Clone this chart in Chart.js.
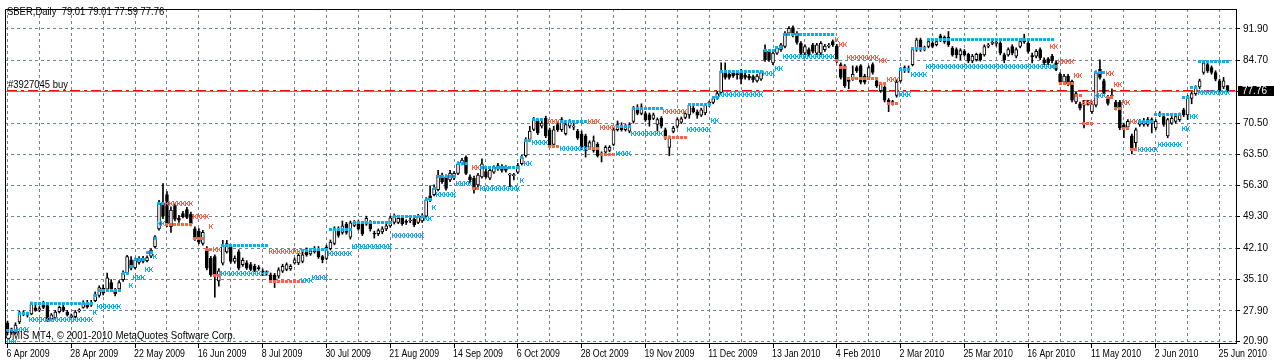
<!DOCTYPE html>
<html>
<head>
<meta charset="utf-8">
<script src="https://cdn.jsdelivr.net/npm/chart.js@4.4.1/dist/chart.umd.min.js"></script>
<style>
  html, body { margin: 0; padding: 0; background: #fff; }
</style>
</head>
<body>
<canvas id="chart" width="1274" height="361"></canvas>
<script>
  // SBER daily, 6 Apr 2009 .. 29 Jun 2010 (one entry per trading day)
  const dateLabels = ["6 Apr 2009", "28 Apr 2009", "22 May 2009", "16 Jun 2009", "8 Jul 2009",
    "30 Jul 2009", "21 Aug 2009", "14 Sep 2009", "6 Oct 2009", "28 Oct 2009", "19 Nov 2009",
    "11 Dec 2009", "13 Jan 2010", "4 Feb 2010", "2 Mar 2010", "25 Mar 2010", "16 Apr 2010",
    "11 May 2010", "2 Jun 2010", "25 Jun 2010"];
  const barsPerLabel = 16;
  const priceTicks = [20.90, 27.90, 35.10, 42.10, 49.30, 56.30, 63.50, 70.50, 77.60, 84.70, 91.90];

  const opens = [
    25.2, 23.0, 22.9, 25.4, 27.2, 27.0, 27.2, 28.6, 28.1, 29.8,
    29.1, 26.0, 26.3, 27.7, 28.7, 27.6, 26.6, 26.6, 27.9, 28.7,
    29.8, 29.2, 30.2, 31.4, 33.0, 32.8, 34.3, 32.5, 32.9, 35.0,
    36.5, 39.5, 37.7, 38.9, 39.8, 39.3, 40.3, 42.5, 46.5, 52.4,
    54.3, 47.0, 51.7, 48.9, 50.0, 50.9, 49.8, 46.5, 46.0, 43.2,
    42.0, 39.8, 40.2, 34.7, 38.7, 41.3, 42.5, 39.1, 41.3, 38.4,
    38.8, 38.4, 38.0, 37.6, 36.9, 36.4, 36.1, 36.0, 35.8, 36.9,
    37.3, 37.4, 38.8, 38.8, 39.1, 41.7, 40.8, 41.3, 42.0, 40.2,
    39.8, 42.0, 43.2, 46.5, 45.7, 47.6, 44.6, 47.3, 48.0, 47.6,
    47.6, 48.0, 45.5, 45.4, 45.8, 46.5, 47.2, 48.0, 48.0, 48.9,
    48.1, 48.3, 48.7, 48.0, 48.3, 49.4, 54.0, 54.3, 55.4, 58.7,
    58.3, 57.6, 58.0, 59.1, 61.4, 62.8, 58.3, 58.0, 56.5, 58.3,
    59.5, 58.0, 59.4, 60.9, 60.7, 60.5, 58.7, 58.6, 59.4, 61.3,
    63.1, 66.8, 69.1, 70.9, 69.8, 71.6, 69.0, 65.7, 70.2, 69.0,
    68.1, 69.8, 69.6, 68.7, 68.0, 67.6, 65.0, 64.3, 65.7, 63.5,
    63.9, 64.3, 65.7, 69.0, 69.8, 69.0, 68.7, 70.9, 73.9, 72.7,
    72.7, 72.4, 71.6, 70.2, 71.6, 69.0, 65.0, 68.6, 69.8, 70.7,
    71.8, 72.4, 73.9, 73.1, 72.3, 72.8, 75.0, 75.2, 76.2, 77.5,
    82.0, 81.6, 82.0, 81.6, 82.0, 81.4, 81.2, 81.1, 80.1, 80.5,
    87.2, 86.8, 84.2, 86.4, 87.2, 87.9, 90.9, 92.2, 90.9, 88.6,
    86.4, 87.2, 88.3, 86.4, 86.4, 87.2, 88.0, 89.0, 88.0, 83.8,
    83.5, 80.1, 80.5, 83.1, 83.5, 81.2, 80.9, 83.8, 80.1, 77.9,
    78.7, 75.7, 75.3, 76.8, 80.1, 82.4, 82.7, 83.8, 87.2, 89.4,
    87.6, 87.9, 88.6, 88.3, 90.3, 89.0, 90.0, 87.5, 87.2, 86.0,
    86.8, 86.1, 84.6, 84.9, 86.1, 86.0, 88.0, 88.6, 88.6, 88.6,
    86.0, 86.0, 87.9, 85.7, 87.9, 89.8, 88.6, 85.7, 85.7, 87.2,
    84.9, 85.1, 85.7, 84.2, 81.6, 79.8, 81.2, 80.0, 75.3, 74.9,
    74.6, 75.0, 73.1, 74.6, 82.7, 80.1, 76.4, 76.6, 75.3, 75.3,
    70.1, 69.6, 67.6, 66.1, 70.2, 70.2, 70.2, 71.3, 69.4, 72.4,
    72.0, 67.6, 70.5, 70.9, 71.3, 73.5, 72.4, 76.1, 77.2, 78.7,
    82.0, 83.8, 83.1, 82.0, 80.1, 78.7, 79.01];
  const highs = [
    25.6, 24.0, 25.2, 27.8, 27.9, 27.6, 29.9, 29.2, 28.9, 30.1,
    29.4, 27.3, 28.0, 29.0, 29.2, 28.0, 27.2, 28.0, 28.4, 30.2,
    30.3, 30.3, 32.2, 33.6, 33.8, 36.5, 35.0, 33.0, 34.8, 37.0,
    40.5, 40.2, 39.9, 40.2, 40.3, 40.4, 42.0, 45.0, 53.0, 56.8,
    55.0, 51.5, 52.2, 49.6, 50.5, 51.4, 50.3, 47.0, 46.6, 46.2,
    42.5, 40.3, 40.6, 37.5, 43.9, 43.9, 43.0, 40.4, 41.8, 39.9,
    39.3, 38.9, 38.5, 38.2, 37.4, 37.0, 36.5, 36.4, 37.7, 38.5,
    38.8, 38.4, 39.9, 40.9, 41.3, 42.2, 41.9, 42.5, 42.5, 40.5,
    42.8, 44.0, 47.0, 47.0, 48.3, 48.0, 48.3, 48.4, 48.4, 48.0,
    49.4, 48.4, 46.0, 46.5, 47.0, 47.6, 49.4, 49.9, 49.3, 49.3,
    48.6, 48.9, 49.1, 49.8, 49.9, 53.6, 56.3, 56.5, 59.8, 59.2,
    58.8, 59.8, 59.5, 61.7, 62.5, 63.1, 58.8, 58.5, 59.1, 62.4,
    60.0, 60.3, 60.9, 61.4, 61.1, 60.9, 59.1, 59.1, 61.4, 63.2,
    67.2, 69.8, 71.8, 71.4, 71.0, 72.1, 69.4, 69.8, 70.6, 71.8,
    70.6, 71.3, 70.5, 69.1, 68.7, 68.0, 66.5, 67.6, 66.1, 64.0,
    65.4, 65.4, 69.4, 71.0, 70.6, 70.2, 70.6, 74.3, 74.7, 74.9,
    73.1, 72.8, 72.8, 71.7, 72.0, 69.4, 67.6, 69.8, 71.7, 71.9,
    73.1, 75.0, 74.3, 73.5, 73.9, 75.0, 75.5, 76.5, 77.7, 84.2,
    84.2, 82.0, 82.4, 82.4, 82.7, 81.8, 81.6, 81.4, 81.6, 82.4,
    88.3, 87.2, 86.8, 87.9, 88.6, 91.3, 92.4, 92.6, 91.3, 89.0,
    88.3, 87.6, 88.6, 88.6, 89.0, 88.4, 88.6, 89.4, 88.4, 84.2,
    83.8, 80.6, 83.5, 83.5, 83.8, 81.6, 83.5, 84.2, 80.5, 79.8,
    79.0, 76.1, 75.7, 80.2, 83.1, 83.5, 83.5, 87.6, 89.8, 89.8,
    88.0, 89.4, 89.0, 89.4, 90.7, 90.3, 91.3, 87.9, 87.6, 87.4,
    87.2, 86.4, 86.1, 86.4, 86.4, 88.3, 88.6, 89.4, 89.4, 89.0,
    86.4, 87.6, 88.3, 87.6, 89.4, 90.7, 89.0, 86.4, 87.2, 87.6,
    85.3, 85.4, 86.1, 84.6, 82.0, 81.6, 81.6, 80.3, 77.6, 75.3,
    75.7, 75.7, 75.3, 82.4, 84.9, 80.5, 76.8, 78.3, 75.7, 75.7,
    70.5, 71.3, 68.0, 69.4, 71.3, 71.6, 71.8, 71.7, 71.3, 73.1,
    72.4, 71.6, 72.0, 72.4, 72.8, 73.9, 76.8, 77.6, 79.0, 80.5,
    84.6, 84.2, 83.5, 82.4, 80.5, 80.9, 79.01];
  const lows = [
    22.5, 22.6, 22.6, 25.0, 26.8, 26.5, 27.0, 27.8, 27.7, 28.4,
    25.5, 25.6, 26.0, 27.4, 27.7, 26.7, 26.2, 26.3, 27.6, 28.5,
    28.5, 28.9, 30.0, 31.0, 31.5, 32.4, 32.4, 31.3, 32.5, 34.6,
    36.2, 37.2, 37.4, 38.5, 38.8, 39.0, 40.0, 42.2, 46.2, 48.8,
    47.0, 45.7, 48.3, 48.0, 49.0, 48.8, 47.2, 43.9, 43.1, 42.8,
    37.2, 35.7, 31.0, 33.5, 38.3, 41.0, 38.7, 38.7, 37.2, 38.0,
    37.3, 37.0, 36.8, 37.1, 35.9, 36.0, 34.4, 33.2, 35.3, 36.6,
    37.0, 37.1, 38.5, 38.4, 38.8, 40.3, 40.5, 41.0, 39.8, 38.8,
    39.5, 41.7, 42.9, 44.6, 45.3, 45.3, 44.2, 47.0, 46.2, 45.0,
    47.3, 46.0, 44.4, 45.0, 45.4, 46.1, 46.9, 47.6, 47.7, 47.3,
    47.5, 47.9, 47.0, 47.7, 48.0, 49.1, 52.7, 54.0, 55.1, 56.8,
    55.3, 57.2, 57.7, 58.8, 61.0, 58.8, 57.0, 54.6, 56.1, 58.0,
    58.0, 57.7, 59.1, 59.8, 59.4, 59.4, 56.1, 57.6, 59.1, 61.0,
    62.8, 66.5, 68.8, 67.9, 69.4, 67.2, 65.0, 65.3, 68.6, 68.6,
    67.8, 69.4, 69.0, 66.8, 64.6, 62.8, 64.6, 63.9, 62.8, 61.7,
    63.5, 64.0, 65.4, 68.7, 68.7, 68.7, 68.3, 70.5, 72.4, 72.4,
    70.9, 69.8, 71.3, 68.7, 69.4, 66.8, 63.1, 68.3, 69.4, 70.4,
    71.5, 71.6, 72.8, 71.6, 72.0, 72.4, 74.3, 74.9, 75.9, 77.2,
    80.5, 80.5, 80.9, 80.5, 79.4, 80.5, 80.3, 79.8, 79.8, 80.2,
    84.5, 84.5, 83.8, 86.1, 86.8, 87.6, 90.5, 90.1, 88.4, 86.0,
    86.0, 85.7, 86.4, 86.0, 86.0, 86.8, 87.6, 87.9, 84.2, 80.5,
    78.6, 78.3, 80.2, 82.0, 79.4, 79.4, 80.5, 81.6, 78.6, 77.5,
    75.3, 73.1, 74.6, 76.4, 79.8, 82.0, 82.0, 83.5, 86.8, 86.8,
    86.9, 87.6, 87.6, 88.0, 89.0, 88.6, 87.9, 85.7, 85.3, 84.9,
    85.7, 84.2, 84.2, 84.6, 84.6, 85.7, 87.6, 88.3, 88.0, 86.0,
    84.2, 85.7, 86.0, 85.3, 87.6, 88.6, 86.4, 84.2, 85.3, 84.9,
    83.8, 83.8, 84.2, 82.4, 79.4, 79.4, 79.0, 75.3, 74.9, 73.5,
    69.4, 74.6, 72.7, 74.2, 80.5, 77.2, 74.6, 76.2, 73.5, 69.0,
    67.2, 69.2, 63.5, 65.0, 69.8, 69.8, 69.8, 68.3, 69.0, 72.0,
    69.8, 67.2, 70.2, 70.5, 70.9, 72.0, 71.3, 74.9, 76.8, 78.3,
    81.6, 82.0, 81.6, 80.1, 77.5, 78.3, 77.59];
  const closes = [
    23.0, 23.8, 24.7, 27.3, 27.4, 26.9, 29.4, 28.0, 28.4, 28.7,
    25.8, 27.0, 27.6, 28.7, 28.0, 27.0, 26.8, 27.6, 28.0, 29.8,
    28.8, 29.7, 31.7, 33.2, 31.9, 35.4, 32.9, 31.8, 34.3, 36.5,
    40.2, 37.6, 39.4, 39.8, 39.1, 40.0, 41.7, 44.7, 52.4, 49.4,
    47.6, 50.8, 48.7, 48.5, 49.3, 49.1, 47.7, 44.3, 43.5, 45.7,
    37.6, 36.1, 35.8, 37.0, 42.8, 43.2, 39.1, 39.8, 37.6, 39.4,
    37.6, 37.3, 37.1, 37.5, 36.2, 36.6, 34.8, 34.3, 37.2, 38.0,
    38.4, 38.0, 39.5, 40.5, 40.6, 40.6, 41.5, 42.0, 40.2, 39.5,
    42.3, 43.5, 46.5, 45.0, 47.2, 45.7, 47.9, 48.0, 46.5, 45.4,
    48.9, 46.5, 45.3, 46.1, 46.5, 47.2, 49.0, 49.4, 48.9, 47.7,
    48.0, 48.4, 47.4, 49.4, 49.4, 53.1, 53.1, 55.7, 58.7, 57.2,
    55.7, 59.1, 59.1, 61.3, 62.1, 59.1, 57.6, 55.4, 58.7, 61.3,
    58.3, 59.8, 60.5, 60.1, 59.8, 59.8, 58.8, 58.7, 60.9, 62.8,
    66.8, 68.7, 71.3, 68.3, 70.5, 67.6, 65.3, 69.0, 69.0, 71.3,
    70.2, 70.9, 69.7, 67.2, 65.0, 64.3, 66.1, 66.5, 63.1, 63.4,
    65.0, 65.0, 69.0, 70.2, 69.0, 69.8, 70.2, 73.9, 72.7, 74.2,
    71.3, 71.3, 72.4, 71.3, 69.8, 67.2, 67.2, 69.4, 71.3, 71.5,
    72.7, 74.6, 73.1, 72.3, 73.5, 74.6, 75.1, 76.1, 77.2, 82.3,
    80.9, 80.9, 81.2, 81.5, 80.5, 80.9, 80.7, 80.4, 81.2, 82.0,
    84.9, 84.9, 86.4, 87.5, 88.3, 90.9, 92.0, 90.5, 88.8, 86.4,
    87.9, 86.1, 86.8, 88.3, 88.6, 88.0, 88.1, 88.3, 84.6, 80.9,
    79.0, 80.0, 81.6, 82.4, 79.8, 79.8, 83.1, 82.0, 79.0, 79.4,
    75.7, 75.0, 75.2, 79.8, 82.7, 83.1, 82.8, 87.2, 89.4, 87.2,
    87.5, 89.0, 87.9, 89.0, 89.4, 90.0, 88.3, 86.0, 86.0, 87.0,
    86.0, 84.6, 85.7, 86.1, 84.9, 87.9, 88.1, 88.7, 88.6, 86.4,
    84.9, 87.2, 86.4, 87.2, 89.0, 89.0, 86.8, 85.6, 86.8, 85.3,
    84.2, 84.2, 84.6, 82.7, 79.8, 81.2, 79.4, 75.7, 77.2, 73.9,
    74.7, 75.1, 74.9, 82.0, 80.9, 77.5, 75.0, 76.7, 73.9, 69.4,
    69.4, 70.9, 64.3, 69.0, 70.9, 70.9, 71.3, 70.5, 70.9, 72.7,
    70.2, 71.3, 71.6, 72.0, 72.4, 72.4, 76.4, 77.2, 78.7, 80.1,
    84.2, 82.4, 82.0, 80.5, 77.9, 80.1, 77.76];

  // indicator levels: [first bar, last bar, price]
  const blueUpper = [[0, 2, 23.4], [3, 5, 27.3], [6, 21, 29.5], [22, 22, 31.5], [23, 28, 32.6],
    [29, 30, 36.4], [31, 31, 38.0], [32, 34, 39.5], [35, 36, 41.2], [37, 37, 44.4], [38, 39, 52.2],
    [54, 65, 42.8], [74, 75, 41.5], [76, 80, 41.9], [81, 86, 46.3], [87, 96, 48.0], [97, 104, 49.3],
    [105, 106, 53.2], [107, 107, 55.6], [108, 112, 58.5], [113, 115, 61.4], [119, 128, 60.5],
    [129, 129, 62.6], [130, 131, 66.6], [132, 134, 71.3], [139, 145, 70.8], [153, 156, 69.8],
    [157, 164, 73.9], [171, 176, 74.7], [177, 178, 76.4], [179, 189, 82.3], [190, 192, 86.9],
    [193, 194, 87.7], [195, 207, 90.7], [224, 226, 82.6], [227, 230, 87.4], [231, 262, 89.4],
    [273, 275, 82.1], [284, 287, 70.8], [288, 294, 72.4], [295, 296, 76.3], [297, 298, 78.5],
    [299, 306, 84.4]];
  const blueLower = [[0, 2, 21.0], [3, 5, 23.6], [6, 21, 25.9], [22, 22, 27.6], [23, 28, 28.9],
    [31, 31, 33.7], [32, 34, 35.5], [35, 36, 37.2], [37, 37, 40.3], [38, 39, 47.7],
    [54, 65, 36.3], [74, 76, 34.8], [77, 80, 35.5], [81, 86, 40.9], [87, 96, 42.6], [97, 104, 45.0],
    [105, 106, 48.9], [107, 107, 51.3], [108, 112, 54.3], [113, 116, 56.8], [119, 128, 55.7],
    [129, 129, 57.6], [130, 131, 61.4], [132, 135, 66.2], [139, 145, 64.8], [153, 156, 63.6],
    [157, 164, 68.1], [171, 176, 69.0], [177, 178, 71.1], [179, 189, 76.9], [190, 192, 81.8],
    [193, 194, 82.9], [195, 207, 85.7], [224, 226, 76.9], [227, 230, 81.5], [231, 263, 83.3],
    [273, 275, 76.8], [284, 288, 64.5], [289, 294, 65.6], [295, 296, 69.4], [297, 298, 71.9],
    [299, 306, 77.4]];
  const redUpper = [[40, 46, 52.2], [47, 50, 49.4], [51, 51, 47.0], [52, 53, 41.8], [66, 74, 41.3],
    [117, 118, 60.5], [136, 138, 70.8], [146, 148, 70.9], [149, 152, 69.6], [165, 170, 73.1],
    [208, 208, 89.6], [209, 210, 88.3], [211, 218, 85.5], [219, 220, 84.8], [221, 223, 80.5],
    [262, 263, 87.8], [264, 267, 84.4], [268, 269, 81.4], [270, 272, 75.1], [276, 277, 81.8],
    [278, 279, 79.2], [280, 281, 75.3], [282, 283, 70.8]];
  const redLower = [[40, 46, 47.4], [47, 49, 44.3], [50, 51, 41.8], [52, 53, 36.0], [66, 74, 34.5],
    [117, 118, 55.7], [136, 138, 65.2], [146, 148, 64.8], [149, 152, 63.5], [165, 170, 67.2],
    [208, 208, 84.8], [209, 210, 83.2], [211, 218, 80.7], [219, 220, 79.4], [221, 223, 75.0],
    [262, 263, 83.3], [264, 267, 79.6], [268, 269, 76.8], [270, 272, 70.5], [276, 277, 76.4],
    [278, 279, 73.9], [280, 281, 69.4], [282, 283, 64.6]];

  const orderPrice = 78.03;
  const bidPrice = closes[closes.length - 1];

  const BLUE = "#0cb0f0";
  const RED = "#fa6446";
  const GRID = "#708090";
  const FAMILY = "'Liberation Sans', Arial, sans-serif";

  // tiny pixel sprites for the indicator arrows
  function sprite(rows, color) {
    let c = document.createElement("canvas");
    c.width = rows[0].length;
    c.height = rows.length;
    let g = c.getContext("2d");
    g.fillStyle = color;
    rows.forEach((r, y) => {
      for (let x = 0; x < r.length; x++) if (r[x] === "#") g.fillRect(x, y, 1, 1);
    });
    return c;
  }
  const squareRows = ["###", "###", "###"];
  const kRows = ["#..#", "#.#.", "###.", "#.#.", "#..#"];

  function levelPoints(segs) {
    let pts = [];
    segs.forEach(s => {
      for (let i = s[0]; i <= s[1]; i++) pts.push({ x: i, y: s[2] });
    });
    return pts;
  }

  let wickData = highs.map((h, i) => ({ x: i, y: [lows[i], h] }));
  let bodyData = opens.map((o, i) => ({ x: i, y: [o, closes[i]] }));
  let bodyColors = opens.map((o, i) => closes[i] >= o ? "#ffffff" : "#000000");

  function squeezeText(ctx, text, x, y, sx) {
    ctx.save();
    ctx.translate(x, y);
    ctx.scale(sx, 1);
    ctx.fillText(text, 0, 0);
    ctx.restore();
  }

  const overlay = {
    id: "overlay",
    beforeDatasetsDraw(chart) {
      let { ctx, chartArea: a, scales: { y } } = chart;
      ctx.imageSmoothingEnabled = false;
      ctx.save();
      let yb = Math.round(y.getPixelForValue(bidPrice)) + 0.5;
      ctx.strokeStyle = "#778899";
      ctx.lineWidth = 1;
      ctx.beginPath(); ctx.moveTo(a.left, yb); ctx.lineTo(a.right, yb); ctx.stroke();
      let yo = Math.round(y.getPixelForValue(orderPrice)) + 0.5;
      ctx.strokeStyle = "#ff0000";
      ctx.setLineDash([10, 4, 3, 4]);
      ctx.beginPath(); ctx.moveTo(a.left + 2, yo); ctx.lineTo(a.right, yo); ctx.stroke();
      ctx.restore();
    },
    afterDraw(chart) {
      let { ctx, chartArea: a, scales: { x, y } } = chart;
      ctx.save();
      ctx.strokeStyle = "#000";
      ctx.lineWidth = 1;
      ctx.beginPath();
      ctx.moveTo(a.left + 0.5, a.bottom); ctx.lineTo(a.left + 0.5, a.top + 0.5); ctx.lineTo(a.right, a.top + 0.5);
      ctx.stroke();

      ctx.fillStyle = "#000";
      ctx.textBaseline = "alphabetic";
      ctx.font = "11px " + FAMILY;
      squeezeText(ctx, "SBER,Daily  79.01 79.01 77.59 77.76", 7, 15, 0.86);
      let yo = y.getPixelForValue(orderPrice);
      squeezeText(ctx, "#3927045 buy", 8, Math.round(yo) - 2, 0.86);
      squeezeText(ctx, "UMIS MT4, \u00a9 2001-2010 MetaQuotes Software Corp.", 5, 339, 0.88);

      // time scale labels, left edge at each tick mark
      ctx.font = "10px " + FAMILY;
      ctx.textBaseline = "top";
      dateLabels.forEach((lbl, k) => {
        let px = x.getPixelForValue(k * barsPerLabel);
        squeezeText(ctx, lbl, Math.max(2, px - 1), 349, 0.88);
      });

      let yb = Math.round(y.getPixelForValue(bidPrice));
      ctx.fillStyle = "#000";
      ctx.fillRect(a.right + 2, yb - 5, 36, 10);
      ctx.fillStyle = "#fff";
      ctx.textBaseline = "middle";
      ctx.font = "10px " + FAMILY;
      ctx.fillText(bidPrice.toFixed(2), a.right + 6, yb);
      ctx.restore();
    }
  };

  new Chart(document.getElementById("chart"), {
    type: "bar",
    data: {
      datasets: [
        { type: "scatter", data: levelPoints(blueUpper), pointStyle: sprite(squareRows, BLUE), order: -1 },
        { type: "scatter", data: levelPoints(blueLower), pointStyle: sprite(kRows, BLUE), order: -1 },
        { type: "scatter", data: levelPoints(redLower), pointStyle: sprite(squareRows, RED), order: -1 },
        { type: "scatter", data: levelPoints(redUpper), pointStyle: sprite(kRows, RED), order: -1 },
        { data: bodyData, backgroundColor: bodyColors, borderColor: "#000", borderWidth: 1,
          borderSkipped: false, barThickness: 3, minBarLength: 1, grouped: false, order: 1 },
        { data: wickData, backgroundColor: "#000", borderWidth: 0, barThickness: 1,
          grouped: false, order: 2 },
      ],
    },
    options: {
      responsive: false,
      animation: false,
      events: [],
      layout: { padding: { left: 1, top: 2, right: 0, bottom: 0 } },
      plugins: { legend: { display: false }, tooltip: { enabled: false } },
      scales: {
        x: {
          type: "linear",
          offset: false,
          min: -0.625,
          max: 308.125,
          afterBuildTicks: scale => {
            let t = [];
            for (let v = 0; v <= scale.max; v += barsPerLabel / 2) t.push({ value: v });
            scale.ticks = t;
          },
          afterFit: scale => { scale.height = 18; scale.paddingLeft = 0; scale.paddingRight = 0; },
          ticks: { display: false },
          grid: {
            offset: false,
            color: GRID, lineWidth: 1, tickLength: 5,
            tickColor: c => c.tick && c.tick.value % barsPerLabel === 0 ? "#000" : "rgba(0,0,0,0)",
          },
          border: { display: true, color: "#000", dash: [3, 3] },
        },
        y: {
          type: "linear",
          position: "right",
          min: 20.61,
          max: 96.41,
          afterBuildTicks: scale => { scale.ticks = priceTicks.map(v => ({ value: v })); },
          afterFit: scale => { scale.width = 38; },
          ticks: {
            padding: 3, color: "#000",
            font: { family: FAMILY, size: 10 },
            callback: v => Math.abs(v - 77.6) < 0.01 ? "" : v.toFixed(2),
          },
          grid: { color: GRID, lineWidth: 1, tickLength: 4, tickColor: "#000" },
          border: { display: true, color: "#000", dash: [3, 3] },
        },
      },
    },
    plugins: [overlay],
  });
</script>
</body>
</html>
